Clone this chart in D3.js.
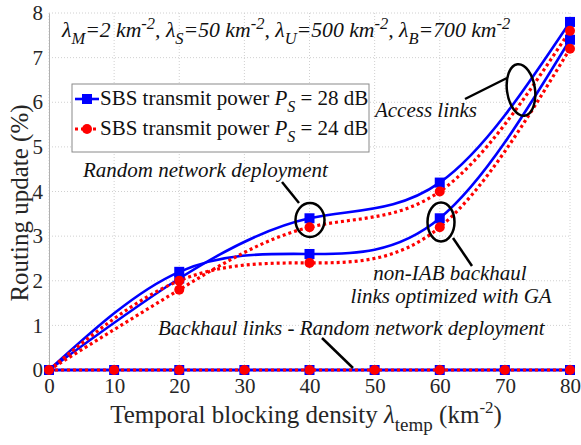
<!DOCTYPE html>
<html><head><meta charset="utf-8">
<script src="https://cdn.jsdelivr.net/npm/d3@7"></script>
</head>
<body style="margin:0"><svg id="c" width="581" height="445"></svg>
<script>
// ---- data ----
const xCurve = [0, 20, 40, 60, 80];
const blueRandom = [0, 2.05, 3.4, 4.2, 7.8];   // P_S = 28 dB, access links, random deployment
const blueGA     = [0, 2.2, 2.6, 3.4, 7.4];    // P_S = 28 dB, non-IAB backhaul optimized with GA
const redRandom  = [0, 1.8, 3.2, 4.0, 7.6];    // P_S = 24 dB, random deployment
const redGA      = [0, 2.0, 2.4, 3.2, 7.2];    // P_S = 24 dB, GA
const xBackhaul  = [0, 10, 20, 30, 40, 50, 60, 70, 80];
const blueBackhaul = [0, 0, 0, 0, 0, 0, 0, 0, 0];
const redBackhaul  = [0, 0, 0, 0, 0, 0, 0, 0, 0];
const xTicks = [0, 10, 20, 30, 40, 50, 60, 70, 80];
const yTicks = [0, 1, 2, 3, 4, 5, 6, 7, 8];
const legendLabels = ["28", "24"];

const FONT = "Liberation Serif";
const svg = d3.select("#c");
const L = 49, R = 570, T = 13, B = 370;
const x = d3.scaleLinear().domain([0, 80]).range([L, R]);
const y = d3.scaleLinear().domain([0, 8]).range([B, T]);
const BLUE = "#0000ff", RED = "#ff0000";

// grid
const g = svg.append("g");
g.selectAll(".gx").data(xTicks).enter().append("line")
  .attr("x1", d => x(d)).attr("x2", d => x(d)).attr("y1", T).attr("y2", B)
  .attr("stroke", "#d0d0d0").attr("stroke-width", 1).attr("stroke-dasharray", "1,2");
g.selectAll(".gy").data(yTicks).enter().append("line")
  .attr("x1", L).attr("x2", R).attr("y1", d => y(d)).attr("y2", d => y(d))
  .attr("stroke", "#d0d0d0").attr("stroke-width", 1).attr("stroke-dasharray", "1,2");

// axes
const xAxis = d3.axisBottom(x).tickValues(xTicks).tickSize(0).tickPadding(5);
const yAxis = d3.axisLeft(y).tickValues(yTicks).tickSize(0).tickPadding(6);
const ax = svg.append("g").attr("transform", `translate(0,${B})`).call(xAxis);
const ay = svg.append("g").attr("transform", `translate(${L},0)`).call(yAxis);
[ax, ay].forEach(a => {
  a.attr("font-family", null).attr("font-size", 21);
  a.select(".domain").attr("stroke", "#b0b0b0").attr("stroke-width", 1);
  a.selectAll("text").attr("font-size", 21).style("font-family", FONT).attr("fill", "#262626");
});
ax.selectAll("text").attr("dy", "0.85em");

// curves
const line = d3.line().x(d => x(d[0])).y(d => y(d[1])).curve(d3.curveNatural);
function curve(vals, col, dotted) {
  const pts = xCurve.map((v, i) => [v, vals[i]]);
  svg.append("path").attr("d", line(pts)).attr("fill", "none")
    .attr("stroke", col).attr("stroke-width", dotted ? 3.2 : 2.6)
    .attr("stroke-dasharray", dotted ? "3,3" : null);
}
function markers(xs, vals, col, shape) {
  xs.forEach((v, i) => {
    if (shape === "sq") svg.append("rect").attr("x", x(v) - 5).attr("y", y(vals[i]) - 5)
      .attr("width", 10).attr("height", 10).attr("fill", col);
    else svg.append("circle").attr("cx", x(v)).attr("cy", y(vals[i])).attr("r", 5).attr("fill", col);
  });
}
curve(blueRandom, BLUE, false);
curve(blueGA, BLUE, false);
curve(redRandom, RED, true);
curve(redGA, RED, true);
markers(xCurve.slice(1), blueRandom.slice(1), BLUE, "sq");
markers(xCurve.slice(1), blueGA.slice(1), BLUE, "sq");
markers(xCurve.slice(1), redRandom.slice(1), RED, "c");
markers(xCurve.slice(1), redGA.slice(1), RED, "c");

// backhaul zero line
const lineLin = d3.line().x(d => x(d[0])).y(d => y(d[1]));
svg.append("path").attr("d", lineLin(xBackhaul.map((v, i) => [v, blueBackhaul[i]])))
  .attr("fill", "none").attr("stroke", BLUE).attr("stroke-width", 3);
markers(xBackhaul, blueBackhaul, BLUE, "sq");
svg.append("path").attr("d", lineLin(xBackhaul.map((v, i) => [v, redBackhaul[i]])))
  .attr("fill", "none").attr("stroke", RED).attr("stroke-width", 3).attr("stroke-dasharray", "3,3");
markers(xBackhaul, redBackhaul, RED, "c");

// annotations: ellipses & arrows
const ann = svg.append("g").attr("stroke", "#000").attr("stroke-width", 2.5).attr("fill", "none");
ann.append("ellipse").attr("cx", 310).attr("cy", 220).attr("rx", 14.5).attr("ry", 17);
ann.append("ellipse").attr("cx", 441).attr("cy", 222).attr("rx", 13.5).attr("ry", 19.5);
ann.append("ellipse").attr("cx", 0).attr("cy", 0).attr("rx", 14).attr("ry", 26)
  .attr("transform", "translate(521,90) rotate(-8)");
ann.append("line").attr("x1", 282).attr("y1", 182).attr("x2", 299).attr("y2", 203);
ann.append("line").attr("x1", 472).attr("y1", 266).attr("x2", 453).attr("y2", 238);
ann.append("line").attr("x1", 465).attr("y1", 99).attr("x2", 507).attr("y2", 78);
ann.append("line").attr("x1", 322).attr("y1", 338).attr("x2", 353).attr("y2", 368);

const it = (tx, ty, s, anchor) => svg.append("text").attr("x", tx).attr("y", ty)
  .attr("font-size", 21).attr("font-style", "italic").style("font-family", FONT).attr("fill", "#111")
  .attr("text-anchor", anchor || "start").text(s);
it(83, 177, "Random network deployment");
it(450, 280, "non-IAB backhaul", "middle");
it(451, 303, "links optimized with GA", "middle");
it(158, 335, "Backhaul links - Random network deployment");
it(477, 117, "Access links", "end");

// top parameter text
const pt = svg.append("text").attr("x", 62).attr("y", 37)
  .attr("font-size", 21.7).attr("font-style", "italic").style("font-family", FONT).attr("fill", "#111");
const params = [["M", "2"], ["S", "50"], ["U", "500"], ["B", "700"]];
params.forEach((p, i) => {
  pt.append("tspan").text("λ");
  pt.append("tspan").attr("font-size", 16.5).attr("dy", 7).text(p[0]);
  pt.append("tspan").attr("dy", -7).text("=" + p[1] + " km");
  pt.append("tspan").attr("font-size", 16.5).attr("dy", -8).text("-2");
  pt.append("tspan").attr("dy", 8).text(i < 3 ? ", " : "");
});

// legend
const lg = svg.append("g");
lg.append("rect").attr("x", 72).attr("y", 84).attr("width", 297).attr("height", 68)
  .attr("fill", "#fff").attr("stroke", "#8a8a8a").attr("stroke-width", 1);
legendLabels.forEach((v, i) => {
  const yy = 99 + i * 30;
  const col = i === 0 ? BLUE : RED;
  lg.append("line").attr("x1", 75).attr("x2", 99).attr("y1", yy).attr("y2", yy)
    .attr("stroke", col).attr("stroke-width", i === 0 ? 2.6 : 3)
    .attr("stroke-dasharray", i === 0 ? null : "3,3");
  if (i === 0) lg.append("rect").attr("x", 82).attr("y", yy - 5).attr("width", 10).attr("height", 10).attr("fill", col);
  else lg.append("circle").attr("cx", 87).attr("cy", yy).attr("r", 5).attr("fill", col);
  const t = lg.append("text").attr("x", 100).attr("y", yy + 6)
    .attr("font-size", 21).style("font-family", FONT).attr("fill", "#111");
  t.append("tspan").text("SBS transmit power ");
  t.append("tspan").attr("font-style", "italic").text("P");
  t.append("tspan").attr("font-style", "italic").attr("font-size", 16).attr("dy", 7).text("S");
  t.append("tspan").attr("dy", -7).text(" = " + v + " dB");
});

// axis labels
const xl = svg.append("text").attr("x", 306).attr("y", 423).attr("text-anchor", "middle")
  .attr("font-size", 25).style("font-family", FONT).attr("fill", "#262626");
xl.append("tspan").text("Temporal blocking density ");
xl.append("tspan").attr("font-style", "italic").text("λ");
xl.append("tspan").attr("font-size", 19).attr("dy", 8).text("temp");
xl.append("tspan").attr("dy", -8).text(" (km");
xl.append("tspan").attr("font-size", 17).attr("dy", -10).text("-2");
xl.append("tspan").attr("dy", 10).text(")");

svg.append("text").attr("transform", "translate(28,203) rotate(-90)").attr("text-anchor", "middle")
  .attr("font-size", 25).style("font-family", FONT).attr("fill", "#262626").text("Routing update (%)");
</script></body></html>
